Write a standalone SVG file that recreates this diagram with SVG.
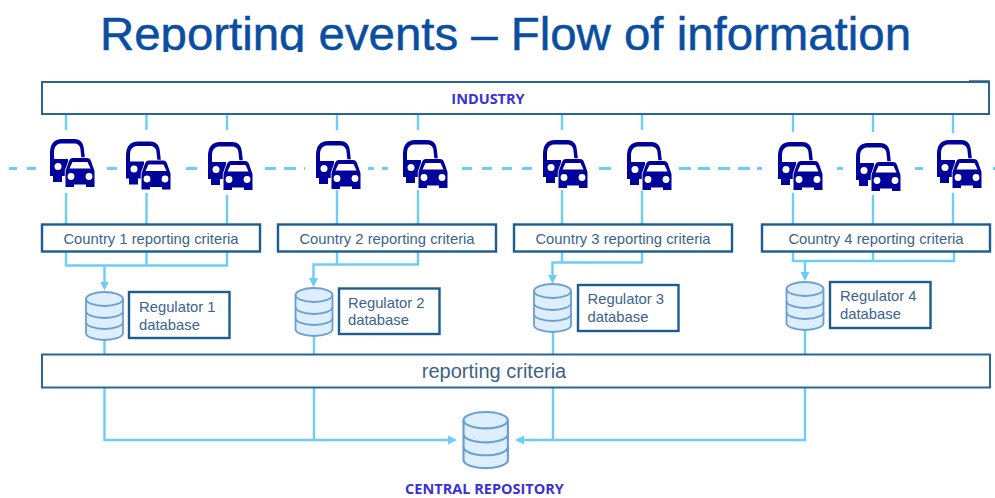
<svg xmlns="http://www.w3.org/2000/svg" width="995" height="498" viewBox="0 0 995 498">
<style>
text{font-family:"Liberation Sans",Arial,sans-serif}
.box{fill:#fff;stroke:#1d5c8f;stroke-width:2.400}
.thin{fill:#fff;stroke:#2a6593;stroke-width:2}
.lbl{font-size:14.800px;fill:#3a6390}
.cap{font-family:"Open Sans","Noto Sans",sans-serif;font-weight:700;font-size:14.500px;fill:#3a30d8;text-anchor:middle}
.con{fill:none;stroke:#6ccdf6;stroke-width:2.400}
.dash{fill:none;stroke:#6ccdf6;stroke-width:2.800}
.db{fill:#ddeefc;stroke:#6c9fd2;stroke-width:1.800}
.dbl{fill:none;stroke:#6c9fd2;stroke-width:1.800}
</style>
<defs>
<clipPath id="titleClip"><rect x="0" y="0" width="995" height="52"/></clipPath>
<marker id="arr" markerUnits="userSpaceOnUse" markerWidth="9" markerHeight="10" viewBox="0 0 9 10" refX="4" refY="5" orient="auto"><path d="M0 .5L9 5L0 9.500Z" fill="#6ccdf6"/></marker>
<g id="vehicle">
<path fill="#00009a" d="M0 14C0 5 4 0 12 0H24C31 0 33.500 4 34 11L35 20H31.500L30.500 11C30.500 7 28 4.500 24 4.500H12C7 4.500 4 7 4 14V20H18V37H12V43H3V37H0Z"/>
<circle cx="8" cy="27.500" r="3.500" fill="#fff"/>
<path fill="#00009a" stroke="#fff" stroke-width="1.500" paint-order="stroke" d="M15.500 48V32L19 22Q20 19 23 19H37Q40 19 41 22L44.500 32V48H36V45.500H24V48Z"/>
<path fill="#fff" d="M19.500 29.500L22.500 23H37.500L40.500 29.500Z"/>
<circle cx="21" cy="37.500" r="3.400" fill="#fff"/>
<circle cx="39" cy="37.500" r="3.400" fill="#fff"/>
</g>
<g id="dbIcon">
<path class="db" d="M0 7A18.500 7 0 0 1 37 7V41A18.500 7 0 0 1 0 41Z"/>
<path class="dbl" d="M0 7A18.500 7 0 0 0 37 7M0 19A18.500 7 0 0 0 37 19M0 30A18.500 7 0 0 0 37 30"/>
</g>
</defs>
<rect width="995" height="498" fill="#fff"/>
<text id="title" clip-path="url(#titleClip)" x="100" y="50" font-size="46" fill="#0a4ea2" stroke="#0a4ea2" stroke-width=".5" textLength="811" lengthAdjust="spacingAndGlyphs">Reporting events – Flow of information</text>

<g id="connectors">
<path class="dash" d="M9 168.500H17M27 168.500H36M107 168.500H117M186 168.500H197M265 168.500H276M284 168.500H296M304 168.500H305M368 168.500H374M382 168.500H388M462 168.500H472M482 168.500H492M502 168.500H512M522 168.500H532M599 168.500H611M679 168.500H691M698 168.500H710M718 168.500H730M738 168.500H750M757 168.500H762M837 168.500H843M915 168.500H923M993 168.500H995"/>
<path class="con" d="M66 115V130M146.500 115V130M227 115V130M337 115V130M418 115V130M562 115V130M642 115V130M793 115V132M873 115V132M953 115V133"/>
<path class="con" d="M66 193V224M146.500 193V224M227 195V224M337 190V224M418 190V224M562 190V224M642 190V224M793 193V224M873 195V224M953 193V224"/>
<path class="con" d="M66 252V265.500H227V252M146.500 252V265.500"/>
<path class="con" marker-end="url(#arr)" d="M104.500 265.500V285.500"/>
<path class="con" marker-end="url(#arr)" d="M337 252V264.500M418 252V264.500H313.500V282"/>
<path class="con" marker-end="url(#arr)" d="M562 252V262.500M642 252V262.500H552.500V279"/>
<path class="con" d="M793 252V261H954V252M873 252V261"/>
<path class="con" marker-end="url(#arr)" d="M805 261V276"/>
<path class="con" d="M104.500 340V354M314 336V354M553 332V354M805 330V354"/>
<path class="con" marker-end="url(#arr)" d="M314 388V440M104.500 388V440H452"/>
<path class="con" marker-end="url(#arr)" d="M553 388V440M805 388V440H520"/>
</g>

<g id="industry"><rect class="thin" x="42" y="82" width="947" height="32"/><path d="M969 81H990" stroke="#2a6593" stroke-width="1.500"/><text x="488" y="104" class="cap">INDUSTRY</text></g>

<use id="vehicle-1" href="#vehicle" x="50" y="139"/>
<use id="vehicle-2" href="#vehicle" x="126" y="141.500"/>
<use id="vehicle-3" href="#vehicle" x="208" y="142"/>
<use id="vehicle-4" href="#vehicle" x="316" y="141"/>
<use id="vehicle-5" href="#vehicle" x="403" y="140"/>
<use id="vehicle-6" href="#vehicle" x="543" y="140"/>
<use id="vehicle-7" href="#vehicle" x="627" y="142"/>
<use id="vehicle-8" href="#vehicle" x="778" y="142"/>
<use id="vehicle-9" href="#vehicle" x="856" y="143"/>
<use id="vehicle-10" href="#vehicle" x="937" y="140"/>

<g id="country-1"><rect class="box" x="42" y="224.500" width="218" height="27"/><text class="lbl" x="151" y="244" text-anchor="middle">Country 1 reporting criteria</text></g>
<g id="country-2"><rect class="box" x="278" y="224.500" width="218" height="27"/><text class="lbl" x="387" y="244" text-anchor="middle">Country 2 reporting criteria</text></g>
<g id="country-3"><rect class="box" x="514" y="224.500" width="218" height="27"/><text class="lbl" x="623" y="244" text-anchor="middle">Country 3 reporting criteria</text></g>
<g id="country-4"><rect class="box" x="762" y="224.500" width="228" height="27"/><text class="lbl" x="876" y="244" text-anchor="middle">Country 4 reporting criteria</text></g>

<g id="db-1"><use href="#dbIcon" x="86" y="292"/></g>
<g id="db-2"><use href="#dbIcon" x="295.500" y="288"/></g>
<g id="db-3"><use href="#dbIcon" x="534" y="284"/></g>
<g id="db-4"><use href="#dbIcon" x="786.500" y="282"/></g>

<g id="regulator-1"><rect class="box" x="129" y="292" width="100.500" height="46"/><text class="lbl"><tspan x="139" y="312">Regulator 1</tspan><tspan x="139" y="330">database</tspan></text></g>
<g id="regulator-2"><rect class="box" x="339" y="288.500" width="100.500" height="45.500"/><text class="lbl"><tspan x="348" y="308">Regulator 2</tspan><tspan x="348" y="325">database</tspan></text></g>
<g id="regulator-3"><rect class="box" x="578" y="285" width="100.500" height="46"/><text class="lbl"><tspan x="587.500" y="304">Regulator 3</tspan><tspan x="587.500" y="322">database</tspan></text></g>
<g id="regulator-4"><rect class="box" x="830" y="282" width="100.500" height="46"/><text class="lbl"><tspan x="840" y="301">Regulator 4</tspan><tspan x="840" y="319">database</tspan></text></g>

<g id="reporting-criteria"><rect class="thin" x="42" y="354.500" width="948" height="33"/><text x="494" y="378" font-size="20" fill="#3d6287" text-anchor="middle">reporting criteria</text></g>

<g id="central-repository"><use href="#dbIcon" transform="translate(463.500 412) scale(1.2 1.170)"/><text x="484.500" y="494" class="cap">CENTRAL REPOSITORY</text></g>
</svg>
